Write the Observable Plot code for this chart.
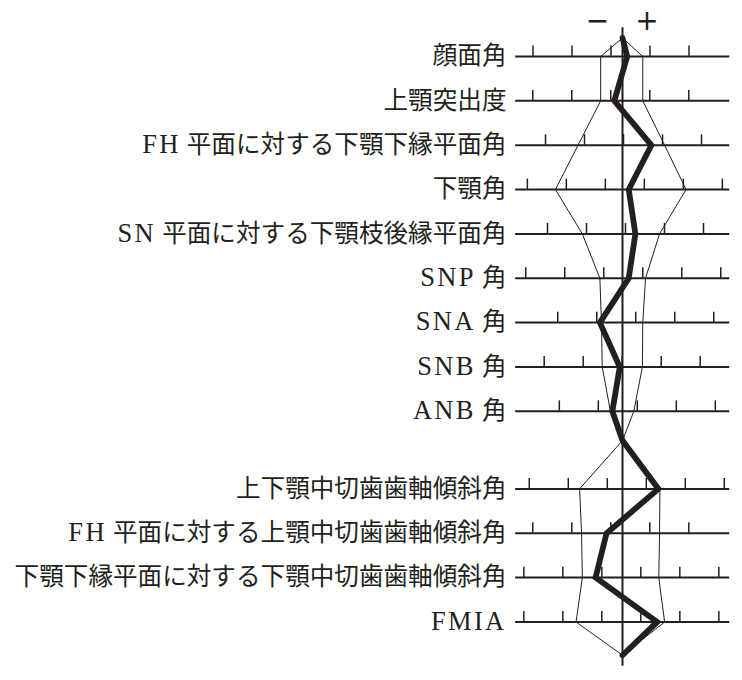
<!DOCTYPE html>
<html>
<head>
<meta charset="utf-8">
<script src="https://cdn.jsdelivr.net/npm/d3@7"></script>
<script src="https://cdn.jsdelivr.net/npm/@observablehq/plot@0.6"></script>
<style>
  html, body { margin: 0; padding: 0; background: #fff; }
  #chart { width: 742px; height: 680px; }
</style>
</head>
<body>
<div id="chart"></div>
<script>
// Measurement names (rows, top to bottom)
const labels = [
  "顔面角",
  "上顎突出度",
  "FH 平面に対する下顎下縁平面角",
  "下顎角",
  "SN 平面に対する下顎枝後縁平面角",
  "SNP 角",
  "SNA 角",
  "SNB 角",
  "ANB 角",
  "上下顎中切歯歯軸傾斜角",
  "FH 平面に対する上顎中切歯歯軸傾斜角",
  "下顎下縁平面に対する下顎中切歯歯軸傾斜角",
  "FMIA"
];
// Values are deviations from the norm (centre line), in tick intervals
const patient  = [0.12, -0.21, 0.74, 0.16, 0.33, 0.16, -0.58, -0.07, -0.26, 0.92, -0.41, -0.69, 0.89];
const normLow  = [-0.56, -0.56, -1.14, -1.72, -1.03, -0.58, -0.54, -0.52, -0.31, -1.10, -1.05, -1.03, -1.19];
const normHigh = [0.52, 0.52, 1.08, 1.63, 0.95, 0.59, 0.52, 0.51, 0.29, 0.96, 0.95, 0.93, 1.08];
// Position of the scale ticks relative to the norm (fraction of a tick interval)
const tickOffset = [-0.295, -0.30, 0.026, -0.44, 0.077, -0.48, 0.34, -0.008, 0.38, -0.39, -0.30, -0.53, -0.53];
const signs = ["−", "+"];

// ---- layout helpers ----
const groupBreak = 9;          // second group starts after ANB
const rowPos = i => (i < groupBreak ? i : i + 0.75);
const topY = -0.42, midY = 8.66, botY = 13.5;
const lineX1 = -2.74, lineX2 = 2.75;
const tickMin = -2.56, tickMax = 2.64;
const tickLen = 0.235;

const rows = labels.map((label, i) => ({label, pos: rowPos(i), p: patient[i], lo: normLow[i], hi: normHigh[i]}));

const ticks = [];
rows.forEach((r, i) => {
  for (let k = -5; k <= 5; k++) {
    const v = tickOffset[i] + k;
    if (v >= tickMin && v <= tickMax) ticks.push({pos: r.pos, v});
  }
});

function path(key) {
  const g1 = rows.slice(0, groupBreak), g2 = rows.slice(groupBreak);
  return [
    {x: 0, y: topY},
    ...g1.map(r => ({x: r[key], y: r.pos})),
    {x: 0, y: midY},
    ...g2.map(r => ({x: r[key], y: r.pos})),
    {x: 0, y: botY}
  ];
}

const ink = "#231f20";
const font = '"Liberation Serif", "Noto Sans CJK JP", serif';

const chart = Plot.plot({
  width: 742,
  height: 680,
  marginLeft: 505,
  marginRight: 3,
  marginTop: 0,
  marginBottom: 0,
  x: {domain: [-3, 3], axis: null},
  y: {domain: [-56 / 44.35, (680 - 56) / 44.35], range: [0, 680], axis: null},
  style: {background: "#fff", fontFamily: font, color: ink},
  marks: [
    Plot.ruleY(rows, {y: "pos", x1: () => lineX1, x2: () => lineX2, stroke: ink, strokeWidth: 2}),
    Plot.ruleX(ticks, {x: "v", y1: "pos", y2: d => d.pos - tickLen, stroke: ink, strokeWidth: 1.5}),
    Plot.line(path("lo"), {x: "x", y: "y", stroke: ink, strokeWidth: 1}),
    Plot.line(path("hi"), {x: "x", y: "y", stroke: ink, strokeWidth: 1}),
    Plot.ruleX([0], {y1: () => -0.65, y2: () => 13.75, stroke: ink, strokeWidth: 2}),
    Plot.line(path("p"), {x: "x", y: "y", stroke: ink, strokeWidth: 5.8, strokeLinejoin: "miter", strokeMiterlimit: 6}),
    Plot.text(rows, {x: () => -3, y: "pos", text: "label", textAnchor: "end", dx: 1, fontSize: 24.6, fill: ink, fontFamily: font}),
    Plot.text(signs, {x: (d, i) => (i === 0 ? -0.64 : 0.63), y: () => -0.80, text: d => d, fontSize: 28, fill: ink, fontFamily: '"DejaVu Sans", sans-serif'})
  ]
});

// Set Latin runs of the labels a little larger and wider (as in the printed original)
const labelSet = new Set(labels);
d3.select(chart).selectAll("text").each(function() {
  const t = this.textContent;
  if (!labelSet.has(t)) return;
  const parts = t.match(/[A-Za-z]+|[^A-Za-z]+/g) || [t];
  while (this.firstChild) this.removeChild(this.firstChild);
  const sel = d3.select(this);
  parts.forEach(p => {
    const ts = sel.append("tspan").text(p);
    if (/[A-Za-z]/.test(p)) {
      ts.style("font-size", "26.5px").style("letter-spacing", "2.3px");
    }
  });
});

document.getElementById("chart").appendChild(chart);
</script>
</body>
</html>
